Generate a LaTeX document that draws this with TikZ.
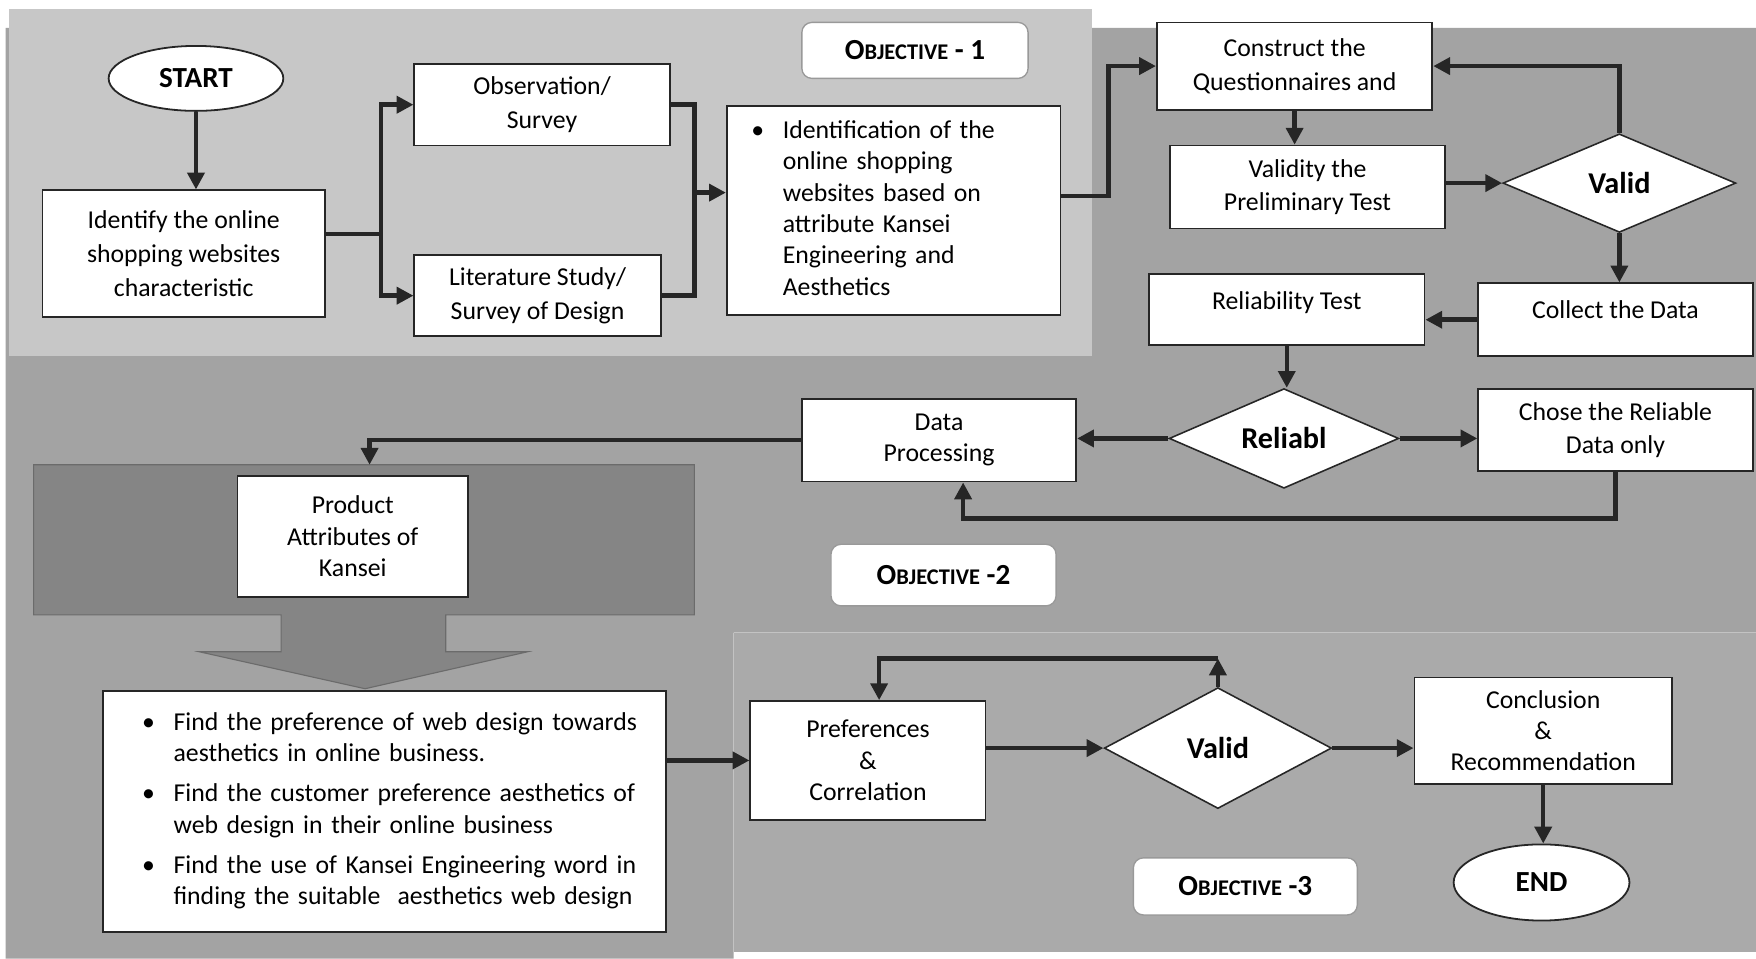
\documentclass[tikz,border=0pt]{standalone}
\usepackage{fontspec}
\setmainfont{Carlito}
\usepackage{tikz}
\usetikzlibrary{calc}
\usetikzlibrary{shapes.geometric}
\usetikzlibrary{arrows.meta}
\newcommand{\boxtext}{\fontsize{23}{30}\selectfont}
\newcommand{\listtext}{\fontsize{23}{28}\selectfont}
\newcommand{\objtitle}[1]{\bfseries{\fontsize{26}{26}\selectfont O}{\fontsize{20}{20}\selectfont BJECTIVE}{\fontsize{26}{26}\selectfont #1}}
\newcommand{\bul}{\makebox[28pt][l]{\textbullet}}
\definecolor{panelA}{gray}{0.78}
\definecolor{panelB}{gray}{0.64}
\definecolor{panelC}{gray}{0.665}
\definecolor{bigfill}{gray}{0.52}
\definecolor{bigedge}{gray}{0.42}
\tikzset{
  procbox/.style={draw=black!85, fill=white, line width=1.6pt, align=center, font=\boxtext, inner sep=3pt},
  termbox/.style={ellipse, draw=black!85, fill=white, line width=1.6pt, font=\fontsize{26}{26}\selectfont\bfseries, inner sep=0pt},
  decbox/.style={diamond, draw=black!85, fill=white, line width=1.4pt, font=\fontsize{27}{27}\selectfont\bfseries, inner sep=0pt, aspect=2.3},
  objbox/.style={draw=gray!80, fill=white, rounded corners=9pt, line width=1.2pt},
  flow/.style={line width=4pt, draw=black!85},
  arr/.style={flow, -{Triangle[length=15pt,width=15pt]}},
}

\begin{document}
\begin{tikzpicture}[x=1pt, y=-1pt]
    \useasboundingbox (0,0) rectangle (1568,856);
    % panels
    \fill[white] (0,0) rectangle (1568,856);
    \fill[panelB] (5,25) -- (1568,25) -- (1568,565) -- (655,565) -- (655,856) -- (5,856) -- cycle;
    \fill[panelC] (655,565) rectangle (1568,850);
    \fill[panelA] (8,8) rectangle (975,318);
    % big arrow
    \filldraw[fill=bigfill, draw=bigedge, line width=1pt] (30,415) -- (620,415) -- (620,549) -- (398,549) -- (398,582) -- (471,582)
        -- (326,615) -- (178,582) -- (251,582) -- (251,549) -- (30,549) -- cycle;

    % objective 1
    \node[termbox, minimum width=156pt, minimum height=58pt] (start) at (175,70) {START};
    \node[procbox, minimum width=252pt, minimum height=113pt] (ident) at (164,226.5) {Identify the online\\shopping websites\\characteristic};
    \node[procbox, minimum width=228pt, minimum height=73pt] (obs) at (484,93.5) {Observation/\\Survey};
    \node[procbox, minimum width=220pt, minimum height=72pt] (lit) at (480,264) {Literature Study/\\Survey of Design};
    \node[procbox, minimum width=298pt, minimum height=186pt, text width=254pt, align=left, inner xsep=22pt, font=\listtext] (idf) at (798,188)
        {\begin{tabular}{@{}l@{}l@{}}\bul & Identification of the\\ & online shopping\\ & websites based on\\ & attribute Kansei\\ & Engineering and\\ & Aesthetics\end{tabular}};
    \node[objbox, minimum width=202pt, minimum height=50pt] (obj1) at (817,45) {\objtitle{\ -\ 1}};

    % objective 2
    \node[procbox, minimum width=246pt, minimum height=78pt] (construct) at (1156,59) {Construct the\\Questionnaires and};
    \node[procbox, minimum width=245pt, minimum height=74pt] (validity) at (1167.5,167) {Validity the\\Preliminary Test};
    \node[decbox, minimum width=208pt, minimum height=88pt] (valid1) at (1446,163.5) {Valid};
    \node[procbox, minimum width=245pt, minimum height=65pt, text depth=18pt] (collect) at (1442.5,285.5) {Collect the Data};
    \node[procbox, minimum width=246pt, minimum height=63pt, text depth=17pt] (reliability) at (1149,276.5) {Reliability Test};
    \node[decbox, minimum width=205pt, minimum height=89pt] (reliabl) at (1146.5,391.5) {Reliabl};
    \node[procbox, minimum width=245pt, minimum height=73pt] (chose) at (1442.5,384) {Chose the Reliable\\Data only};
    \node[procbox, minimum width=245pt, minimum height=74pt, font=\listtext] (dataproc) at (838.5,393) {Data\\Processing};
    \node[procbox, minimum width=206pt, minimum height=108pt, font=\listtext] (product) at (315,479) {Product\\Attributes of\\Kansei};
    \node[objbox, minimum width=201pt, minimum height=55pt] (obj2) at (842.5,513.5) {\objtitle{\ -2}};

    % objective 3
    \node[procbox, minimum width=503pt, minimum height=215pt, text width=433pt, align=left, inner xsep=35pt, font=\listtext] (goals) at (343.5,724.5)
        {\begin{tabular}{@{}l@{}l@{}}\bul & Find the preference of web design towards\\ & aesthetics in online business.\\[8pt]
         \bul & Find the customer preference aesthetics of\\ & web design in their online business\\[8pt]
         \bul & Find the use of Kansei Engineering word in\\ & finding the suitable\ \ aesthetics web design\end{tabular}};
    \node[procbox, minimum width=210pt, minimum height=106pt, font=\listtext] (pref) at (775,679) {Preferences\\\&\\Correlation};
    \node[decbox, minimum width=203pt, minimum height=108pt] (valid2) at (1087.5,668) {Valid};
    \node[procbox, minimum width=230pt, minimum height=95pt, font=\listtext] (concl) at (1378,652.5) {Conclusion\\\&\\Recommendation};
    \node[termbox, minimum width=157pt, minimum height=68pt] (endnode) at (1376.5,788) {END};
    \node[objbox, minimum width=200pt, minimum height=51pt] (obj3) at (1112,791.5) {\objtitle{\ -3}};

    % bends
    \coordinate (split) at (340,209);
    \coordinate (merge) at (620,172);
    \coordinate (jog) at (990,175);
    \coordinate (back) at (860,463);
    \coordinate (bigtop) at (330,415);
    \coordinate (loop) at (785,588);

    % connectors
    \draw[arr] (start.south) -- (start.south |- ident.north);
    \draw[flow] (ident.east |- split) -- (split);
    \draw[arr] (split) |- (obs.west);
    \draw[arr] (split) |- (lit.west);
    \draw[flow] (obs.east) -| (merge) |- (lit.east);
    \draw[arr] (merge) -- (merge -| idf.west);
    \draw[arr] (idf.east |- jog) -- (jog) |- (construct.west);
    \draw[arr] (construct.south) -- (construct.south |- validity.north);
    \draw[arr] (valid1.west -| validity.east) -- (valid1.west);
    \draw[arr] (valid1.north) |- (construct.east);
    \draw[arr] (valid1.south) -- (valid1.south |- collect.north);
    \draw[arr] (collect.west) -- (collect.west -| reliability.east);
    \draw[arr] (reliability.south) -- (reliability.south |- reliabl.north);
    \draw[arr] (reliabl.east) -- (reliabl.east -| chose.west);
    \draw[arr] (reliabl.west) -- (reliabl.west -| dataproc.east);
    \draw[arr] (chose.south) |- (back) -- (back |- dataproc.south);
    \draw[arr] (dataproc.west) -| (bigtop);
    \draw[arr] (pref.west -| goals.east) -- (pref.west);
    \draw[arr] (valid2.west -| pref.east) -- (valid2.west);
    \draw[arr] (valid2.north) -- (valid2.north |- loop);
    \draw[arr] (valid2.north |- loop) -- (loop) -- (loop |- pref.north);
    \draw[arr] (valid2.east) -- (valid2.east -| concl.west);
    \draw[arr] (concl.south) -- (concl.south |- endnode.north);
\end{tikzpicture}
\end{document}
